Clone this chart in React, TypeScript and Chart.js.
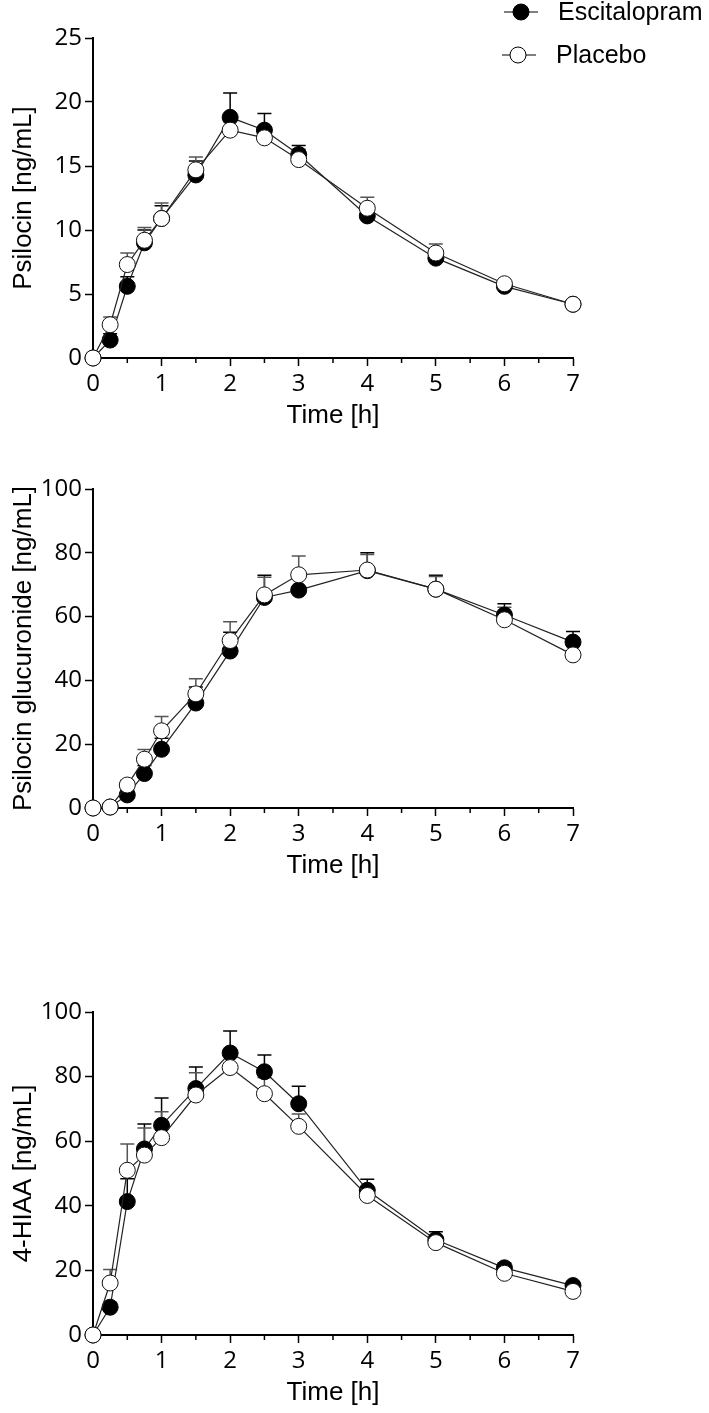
import React, { useEffect, useRef } from 'react';
import { Chart, registerables } from 'chart.js';

Chart.register(...registerables);

// ---------- data ----------
const TIMES = [0, 0.25, 0.5, 0.75, 1, 1.5, 2, 2.5, 3, 4, 5, 6, 7];
const X_TICKS = [0, 1, 2, 3, 4, 5, 6, 7];
const SERIES_NAMES = ['Escitalopram', 'Placebo'];

const PSI_ESC = [0, 1.4, 5.6, 9.0, 10.9, 14.3, 18.8, 17.8, 15.9, 11.1, 7.8, 5.6, 4.2];
const PSI_ESC_SEM = [0, 0.5, 0.75, 1.0, 1.0, 1.1, 1.9, 1.3, 0.7, 0.9, 0.6, 0.4, 0.3];
const PSI_PLA = [0, 2.6, 7.3, 9.2, 10.9, 14.7, 17.8, 17.2, 15.5, 11.7, 8.2, 5.8, 4.2];
const PSI_PLA_SEM = [0, 0.6, 0.9, 1.0, 1.2, 1.0, 0.7, 0.5, 0.8, 0.85, 0.7, 0.3, 0.3];

const GLU_ESC = [0, 0.3, 4.1, 10.8, 18.4, 32.9, 49.2, 66.0, 68.3, 74.4, 68.6, 60.5, 52.0];
const GLU_ESC_SEM = [0, 0.2, 1.5, 2.5, 3.5, 5.0, 5.9, 7.0, 5.0, 5.6, 4.4, 3.5, 3.3];
const GLU_PLA = [0, 0.3, 7.2, 15.3, 24.2, 35.8, 52.5, 66.8, 73.1, 74.6, 68.6, 59.0, 48.0];
const GLU_PLA_SEM = [0, 0.2, 1.5, 3.0, 4.5, 4.7, 5.9, 5.5, 5.9, 4.9, 4.0, 3.9, 3.0];

const HIAA_ESC = [0, 8.6, 41.3, 57.6, 64.9, 76.3, 87.3, 81.5, 71.6, 44.8, 29.5, 20.8, 15.3];
const HIAA_ESC_SEM = [0, 1.5, 7.1, 7.7, 8.5, 6.7, 6.8, 5.2, 5.4, 3.4, 2.5, 1.5, 1.2];
const HIAA_PLA = [0, 16.1, 51.0, 55.7, 61.1, 74.3, 82.8, 74.7, 64.6, 43.2, 28.6, 19.1, 13.5];
const HIAA_PLA_SEM = [0, 4.2, 8.1, 8.4, 8.0, 6.9, 5.0, 5.0, 3.8, 2.5, 2.0, 1.5, 1.0];

const Y_TITLES = ['Psilocin [ng/mL]', 'Psilocin glucuronide [ng/mL]', '4-HIAA [ng/mL]'];
const X_TITLE = 'Time [h]';
const Y_MAXES = [25, 100, 100];
const Y_STEPS = [5, 20, 20];

// ---------- layout ----------
const W = 709;
const PLOT_LEFT = 93;
const PLOT_RIGHT = 573;
const X_AXIS_H = 75;
const TITLE_FONT = 'Liberation Sans, Arial, sans-serif';
const TICK_FONT = 'Open Sans, Noto Sans, sans-serif';

type Spec = {
  top: number;
  plotTop: number;
  plotBottom: number;
  yMax: number;
  yStep: number;
  yTitle: string;
  esc: number[];
  escErr: number[];
  pla: number[];
  plaErr: number[];
  legend: boolean;
};

const errorBarPlugin = {
  id: 'errorBars',
  beforeDatasetsDraw(chart: any) {
    const ctx = chart.ctx;
    const yScale = chart.scales.y;
    chart.data.datasets.forEach((ds: any, i: number) => {
      const meta = chart.getDatasetMeta(i);
      const errs: number[] = ds.errors || [];
      ctx.save();
      ctx.strokeStyle = ds.errColor;
      ctx.lineWidth = 1.5;
      meta.data.forEach((pt: any, j: number) => {
        const v = ds.data[j].y;
        const e = errs[j] || 0;
        if (!e) return;
        const y0 = yScale.getPixelForValue(v);
        const y1 = yScale.getPixelForValue(v + e);
        ctx.beginPath();
        ctx.moveTo(pt.x, y0);
        ctx.lineTo(pt.x, y1);
        ctx.moveTo(pt.x - 7, y1);
        ctx.lineTo(pt.x + 7, y1);
        ctx.stroke();
      });
      ctx.restore();
    });
  },
};

const minorTickPlugin = {
  id: 'minorTicks',
  afterDraw(chart: any) {
    const ctx = chart.ctx;
    const xs = chart.scales.x;
    const bottom = chart.chartArea.bottom;
    ctx.save();
    ctx.strokeStyle = '#000';
    ctx.lineWidth = 1.5;
    for (let i = 0; i < X_TICKS.length - 1; i++) {
      const v = X_TICKS[i] + 0.5;
      const px = xs.getPixelForValue(v);
      ctx.beginPath();
      ctx.moveTo(px, bottom);
      ctx.lineTo(px, bottom + 5);
      ctx.stroke();
    }
    ctx.restore();
  },
};

const legendPlugin = {
  id: 'customLegend',
  afterDraw(chart: any) {
    if (!chart.options.plugins.customLegend?.show) return;
    const ctx = chart.ctx;
    const items = [
      { name: SERIES_NAMES[0], fill: '#000', cx: 521, cy: 12, x0: 504, x1: 538, tx: 558 },
      { name: SERIES_NAMES[1], fill: '#fff', cx: 518, cy: 55, x0: 502, x1: 536, tx: 556 },
    ];
    ctx.save();
    items.forEach((it) => {
      ctx.strokeStyle = '#000';
      ctx.lineWidth = 1;
      ctx.beginPath();
      ctx.moveTo(it.x0, it.cy);
      ctx.lineTo(it.x1, it.cy);
      ctx.stroke();
      ctx.beginPath();
      ctx.arc(it.cx, it.cy, 8, 0, Math.PI * 2);
      ctx.fillStyle = it.fill;
      ctx.fill();
      ctx.stroke();
      ctx.fillStyle = '#000';
      ctx.font = `25px ${TITLE_FONT}`;
      ctx.textAlign = 'left';
      ctx.textBaseline = 'middle';
      ctx.fillText(it.name, it.tx, it.cy + 1);
    });
    ctx.restore();
  },
};

function Panel({ spec }: { spec: Spec }) {
  const ref = useRef<HTMLCanvasElement>(null);
  const height = spec.plotBottom + X_AXIS_H - spec.top;

  useEffect(() => {
    const canvas = ref.current;
    if (!canvas) return;
    const mk = (vals: number[]) => TIMES.map((t, i) => ({ x: t, y: vals[i] }));
    const chart = new Chart(canvas, {
      type: 'line',
      data: {
        datasets: [
          {
            label: SERIES_NAMES[0],
            data: mk(spec.esc),
            errors: spec.escErr,
            errColor: '#000',
            borderColor: '#222',
            borderWidth: 1.2,
            backgroundColor: '#000',
            pointBackgroundColor: '#000',
            pointBorderColor: '#000',
            pointBorderWidth: 1,
            pointRadius: 8,
            pointHoverRadius: 8,
            tension: 0,
            clip: false,
            order: 1,
          } as any,
          {
            label: SERIES_NAMES[1],
            data: mk(spec.pla),
            errors: spec.plaErr,
            errColor: '#555',
            borderColor: '#222',
            borderWidth: 1.2,
            backgroundColor: '#fff',
            pointBackgroundColor: '#fff',
            pointBorderColor: '#111',
            pointBorderWidth: 1,
            pointRadius: 8,
            pointHoverRadius: 8,
            tension: 0,
            clip: false,
            order: 0,
          } as any,
        ],
      },
      options: {
        responsive: false,
        animation: false,
        devicePixelRatio: 1,
        events: [],
        layout: {
          padding: { top: spec.plotTop - spec.top, right: W - PLOT_RIGHT, left: 0, bottom: 0 },
        },
        plugins: {
          legend: { display: false },
          tooltip: { enabled: false },
          customLegend: { show: spec.legend },
        } as any,
        scales: {
          x: {
            type: 'linear',
            min: 0,
            max: 7,
            afterFit: (s: any) => {
              s.height = X_AXIS_H;
            },
            ticks: {
              stepSize: 1,
              autoSkip: false,
              maxRotation: 0,
              padding: 4,
              color: '#000',
              font: { family: TICK_FONT, size: 24 },
            },
            grid: {
              display: true,
              drawOnChartArea: false,
              drawTicks: true,
              tickLength: 8,
              tickColor: '#000',
              tickWidth: 1.5,
            },
            border: { display: true, color: '#000', width: 2 },
            title: {
              display: true,
              text: X_TITLE,
              color: '#000',
              font: { family: TITLE_FONT, size: 26 },
              padding: { top: 0, bottom: 2 },
            },
          },
          y: {
            type: 'linear',
            min: 0,
            max: spec.yMax,
            afterFit: (s: any) => {
              s.width = PLOT_LEFT;
            },
            ticks: {
              stepSize: spec.yStep,
              autoSkip: false,
              padding: 3,
              color: '#000',
              font: { family: TICK_FONT, size: 24 },
            },
            grid: {
              display: true,
              drawOnChartArea: false,
              drawTicks: true,
              tickLength: 8,
              tickColor: '#000',
              tickWidth: 1.5,
            },
            border: { display: true, color: '#000', width: 2 },
            title: {
              display: true,
              text: spec.yTitle,
              color: '#000',
              font: { family: TITLE_FONT, size: 26 },
              padding: { top: 8, bottom: 0 },
            },
          },
        },
      } as any,
      plugins: [errorBarPlugin, minorTickPlugin, legendPlugin],
    });
    return () => chart.destroy();
  }, []);

  return (
    <div style={{ position: 'absolute', left: 0, top: spec.top, width: W, height }}>
      <canvas ref={ref} width={W} height={height} style={{ display: 'block' }} />
    </div>
  );
}

const SPECS: Spec[] = [
  {
    top: 0, plotTop: 38, plotBottom: 358, yMax: Y_MAXES[0], yStep: Y_STEPS[0], yTitle: Y_TITLES[0],
    esc: PSI_ESC, escErr: PSI_ESC_SEM, pla: PSI_PLA, plaErr: PSI_PLA_SEM, legend: true,
  },
  {
    top: 433, plotTop: 489, plotBottom: 808, yMax: Y_MAXES[1], yStep: Y_STEPS[1], yTitle: Y_TITLES[1],
    esc: GLU_ESC, escErr: GLU_ESC_SEM, pla: GLU_PLA, plaErr: GLU_PLA_SEM, legend: false,
  },
  {
    top: 883, plotTop: 1012, plotBottom: 1335, yMax: Y_MAXES[2], yStep: Y_STEPS[2], yTitle: Y_TITLES[2],
    esc: HIAA_ESC, escErr: HIAA_ESC_SEM, pla: HIAA_PLA, plaErr: HIAA_PLA_SEM, legend: false,
  },
];

export default function App() {
  return (
    <div style={{ position: 'absolute', left: 0, top: 0, width: W, height: 1413, background: '#fff' }}>
      {SPECS.map((s, i) => (
        <Panel key={i} spec={s} />
      ))}
    </div>
  );
}
